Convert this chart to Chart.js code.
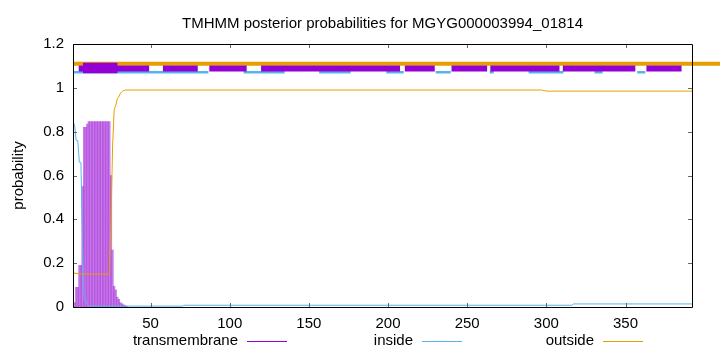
<!DOCTYPE html>
<html>
<head>
<meta charset="utf-8">
<script src="https://cdn.jsdelivr.net/npm/chart.js@4/dist/chart.umd.min.js"></script>
<style>
  html, body { margin: 0; padding: 0; background: #ffffff; }
  canvas { display: block; }
</style>
</head>
<body>
<canvas id="c" width="720" height="352"></canvas>
<script>
// ---------- data ----------
const titleText = "TMHMM posterior probabilities for MGYG000003994_01814";
const xTickValues = [50, 100, 150, 200, 250, 300, 350];
const yTickValues = [0, 0.2, 0.4, 0.6, 0.8, 1, 1.2];
const legendLabels = ["transmembrane", "inside", "outside"];

// transmembrane posterior per residue, starting at residue 1
const tmStart = 1;
const tmValues = [0, 0.02, 0.09, 0.09, 0.19, 0.19, 0.55, 0.82, 0.82, 0.835,
  0.846, 0.846, 0.846, 0.846, 0.846, 0.846, 0.846, 0.846, 0.846, 0.846, 0.846, 0.846, 0.846, 0.846,
  0.60, 0.26, 0.095, 0.078, 0.045, 0.035, 0.02, 0.015, 0.01, 0.006, 0.003];

// inside posterior: residue positions and values
const insidePos = [1, 2, 3, 4, 5, 6, 7, 8, 9, 10, 11, 36, 70, 71, 316, 317, 392];
const insideVal = [0.846, 0.83, 0.76, 0.76, 0.66, 0.66, 0.30, 0.03, 0.03, 0.015, 0.004, 0.004, 0.004, 0.008, 0.008, 0.014, 0.014];

// outside posterior: residue positions and values
const outsidePos = [1, 8, 23, 24, 25, 26, 27, 28, 29, 30, 31, 32, 33, 34, 297, 300, 392];
const outsideVal = [0.155, 0.15, 0.15, 0.15, 0.39, 0.73, 0.90, 0.92, 0.95, 0.96, 0.975, 0.983, 0.987, 0.99, 0.99, 0.985, 0.985];

// predicted topology bands near the top (residue ranges)
const outsideBandY = 1.1096;
const outsideBand = [[1, 420]];
const tmBandY = 1.0886;
const tmBand = [[4.6, 49.1], [57.8, 79.8], [87.1, 110.7], [119.8, 207.6], [210.6, 229.5],
  [240.1, 262.6], [264.6, 308.3], [310.4, 356.2], [363.2, 385.4], [404.9, 420]];
const tmBandThickY = 1.09;
const tmBandThick = [[7.3, 29.1]];
const insideBandY = 1.0712;
const insideBand = [[1, 86.5], [108.8, 134.7], [156.5, 176.4], [198.9, 209.9], [230.1, 239.6],
  [264.2, 266.8], [288.8, 310.8], [330.4, 335.5], [357.4, 362.5]];

// ---------- colours ----------
const PURPLE = "#9400D3";
const BLUE = "#56B4E9";
const ORANGE = "#E69F00";
const FONT = "'Liberation Sans', Arial, Helvetica, sans-serif";

// ---------- build datasets ----------
const tmData = tmValues.map((v, i) => ({ x: tmStart + i, y: v }));
const insideData = insidePos.map((p, i) => ({ x: p, y: insideVal[i] }));
const outsideData = outsidePos.map((p, i) => ({ x: p, y: outsideVal[i] }));
function bandData(segs, y) {
  const d = [];
  segs.forEach(([a, b]) => { d.push({ x: a, y: y }, { x: b, y: y }, { x: b, y: null }); });
  return d;
}

const frameAndLegend = {
  id: "frameAndLegend",
  afterDraw(chart) {
    const ctx = chart.ctx;
    const a = chart.chartArea;
    const xs = chart.scales.x, ys = chart.scales.y;
    ctx.save();
    // title centred over the plot area
    ctx.font = "15px " + FONT;
    ctx.fillStyle = "#000";
    ctx.textAlign = "center";
    ctx.textBaseline = "middle";
    ctx.fillText(titleText, (a.left + a.right) / 2, 24);
    // inward ticks
    ctx.strokeStyle = "#666";
    ctx.lineWidth = 1;
    const tl = 4;
    ctx.beginPath();
    xTickValues.forEach(v => {
      const px = Math.round(xs.getPixelForValue(v)) + 0.5;
      ctx.moveTo(px, a.bottom); ctx.lineTo(px, a.bottom - tl);
      ctx.moveTo(px, a.top); ctx.lineTo(px, a.top + tl);
    });
    yTickValues.forEach(v => {
      const py = Math.round(ys.getPixelForValue(v)) + 0.5;
      ctx.moveTo(a.left, py); ctx.lineTo(a.left + tl, py);
      ctx.moveTo(a.right, py); ctx.lineTo(a.right - tl, py);
    });
    ctx.stroke();
    // frame
    ctx.strokeStyle = "#000";
    ctx.beginPath();
    ctx.rect(Math.round(a.left) + 0.5, Math.round(a.top) + 0.5,
             Math.round(a.right) - Math.round(a.left), Math.round(a.bottom) - Math.round(a.top));
    ctx.stroke();
    // legend
    const cols = [PURPLE, BLUE, ORANGE];
    const rightEdges = [238, 413, 594];
    const ly = 341;
    ctx.textAlign = "right";
    legendLabels.forEach((t, i) => {
      ctx.fillStyle = "#000";
      ctx.fillText(t, rightEdges[i], ly);
      ctx.strokeStyle = cols[i];
      ctx.beginPath();
      ctx.moveTo(rightEdges[i] + 9, Math.round(ly) + 0.5);
      ctx.lineTo(rightEdges[i] + 49, Math.round(ly) + 0.5);
      ctx.stroke();
    });
    ctx.restore();
  }
};

new Chart(document.getElementById("c"), {
  type: "bar",
  data: {
    datasets: [
      { type: "line", label: "tmBandThick", data: bandData(tmBandThick, tmBandThickY), borderColor: PURPLE,
        borderWidth: 10.5, pointRadius: 0, spanGaps: false, clip: false, order: 0, tension: 0 },
      { type: "line", label: "tmBand", data: bandData(tmBand, tmBandY), borderColor: PURPLE,
        borderWidth: 6, pointRadius: 0, spanGaps: false, clip: false, order: 1, tension: 0 },
      { type: "line", label: "outsideBand", data: bandData(outsideBand, outsideBandY), borderColor: ORANGE,
        borderWidth: 4, pointRadius: 0, spanGaps: false, clip: false, order: 2, tension: 0 },
      { type: "line", label: "insideBand", data: bandData(insideBand, insideBandY), borderColor: BLUE,
        borderWidth: 2.5, pointRadius: 0, spanGaps: false, clip: false, order: 3, tension: 0 },
      { type: "line", label: "outside", data: outsideData, borderColor: ORANGE, borderWidth: 1,
        pointRadius: 0, order: 4, tension: 0 },
      { type: "line", label: "inside", data: insideData, borderColor: BLUE, borderWidth: 1,
        pointRadius: 0, order: 5, tension: 0 },
      { type: "bar", label: "transmembrane", data: tmData, backgroundColor: "rgba(148,0,211,0.5)",
        borderWidth: 0, barPercentage: 1, categoryPercentage: 1, order: 6 }
    ]
  },
  options: {
    responsive: false,
    animation: false,
    devicePixelRatio: 1,
    layout: { padding: { left: 0, right: 28, top: 44, bottom: 0 } },
    plugins: {
      legend: { display: false },
      tooltip: { enabled: false },
      title: { display: false }
    },
    scales: {
      x: {
        type: "linear", min: 1, max: 392, offset: false,
        grid: { display: false, drawTicks: false },
        border: { display: false },
        afterBuildTicks: s => { s.ticks = xTickValues.map(v => ({ value: v })); },
        afterFit: s => { s.height = 45; },
        ticks: { color: "#000", font: { family: FONT, size: 15 }, padding: 8, maxRotation: 0,
                 callback: v => String(v) }
      },
      y: {
        type: "linear", min: 0, max: 1.2,
        grid: { display: false, drawTicks: false },
        border: { display: false },
        afterBuildTicks: s => { s.ticks = yTickValues.map(v => ({ value: v })); },
        afterFit: s => { s.width = 73; },
        ticks: { color: "#000", font: { family: FONT, size: 15 }, padding: 9,
                 callback: v => String(Math.round(v * 10) / 10) },
        title: { display: true, text: "probability", color: "#000",
                 font: { family: FONT, size: 15 }, padding: { top: 10, bottom: 0 } }
      }
    }
  },
  plugins: [frameAndLegend]
});
</script>
</body>
</html>
